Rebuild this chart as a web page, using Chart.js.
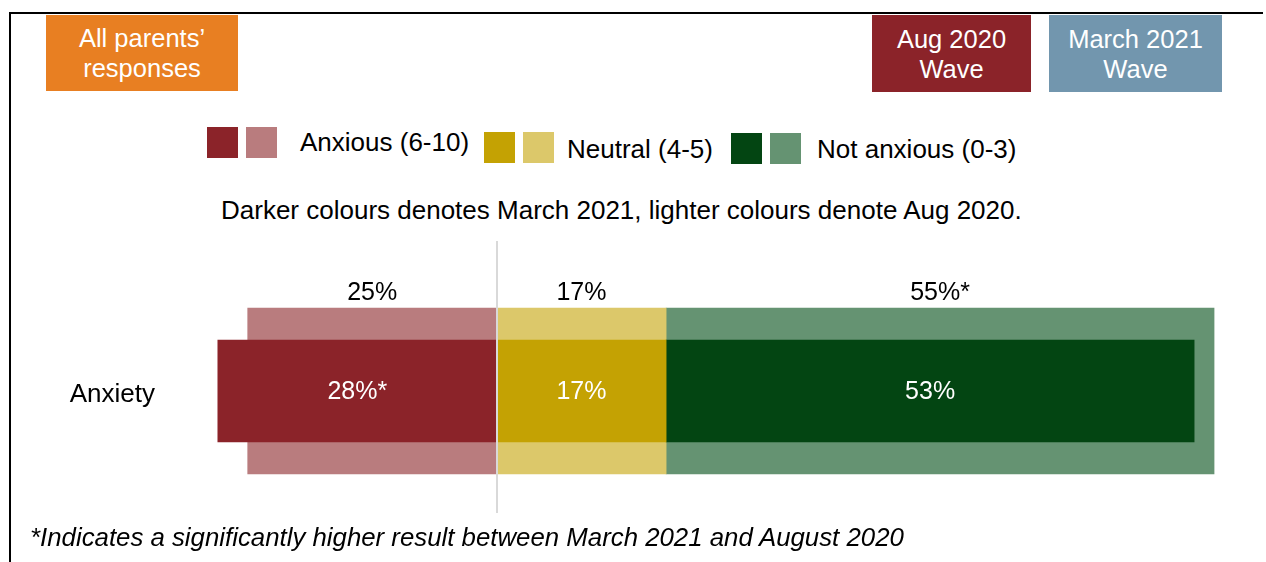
<!DOCTYPE html>
<html>
<head>
<meta charset="utf-8">
<script src="https://cdn.jsdelivr.net/npm/chart.js@4.4.1/dist/chart.umd.min.js"></script>
<style>
    body { margin: 0; background: #fff; }
    #wrap { position: relative; width: 1266px; height: 562px; overflow: hidden; background: #fff;
        font-family: "Liberation Sans", Arial, sans-serif; font-size: 26px; color: #000; }
    .abs { position: absolute; white-space: nowrap; line-height: 30px; }
    .box { position: absolute; display: flex; align-items: center; justify-content: center;
        text-align: center; color: #fff; line-height: 30px; font-size: 25.5px; }
    .sw { position: absolute; width: 31px; height: 31px; }
    #chart { position: absolute; left: 0; top: 241px; }
</style>
</head>
<body>
<div id="wrap">
    <div style="position:absolute;left:9px;top:12px;width:1254px;height:2px;background:#000"></div>
    <div style="position:absolute;left:9px;top:12px;width:2px;height:550px;background:#000"></div>

    <div class="box" style="left:46px;top:15px;width:192px;height:76px;background:#E87F22">All parents’<br>responses</div>
    <div class="box" style="left:872px;top:15px;width:159px;height:77px;background:#8B2329">Aug 2020<br>Wave</div>
    <div class="box" style="left:1049px;top:15px;width:173px;height:77px;background:#7296AE">March 2021<br>Wave</div>

    <div id="legend"></div>

    <div class="abs" style="left:221px;top:195px">Darker colours denotes March 2021, lighter colours denote Aug 2020.</div>

    <canvas id="chart" width="1266" height="300"></canvas>

    <div class="abs" style="left:30px;top:522px;font-style:italic;font-size:25.8px">*Indicates a significantly higher result between March 2021 and August 2020</div>
</div>

<script>
var categories = ['Anxiety'];
var seriesNames = ['Anxious (6-10)', 'Neutral (4-5)', 'Not anxious (0-3)'];
var aug2020 = [25, 17, 55];
var mar2021 = [28, 17, 53];
var aug2020Sig = ['', '', '*'];
var mar2021Sig = ['*', '', ''];
var darkColours = ['#8B2329', '#C4A203', '#034512'];
var lightColours = ['#B97C7E', '#DCC86A', '#659372'];

// legend (two swatches per category, then name)
var legendPos = [
    {sw: 207, top: 127, text: 300, ttop: 127},
    {sw: 484, top: 132, text: 567, ttop: 134},
    {sw: 731, top: 133, text: 817, ttop: 133.5}
];
var legendHtml = '';
for (var i = 0; i < seriesNames.length; i++) {
    var p = legendPos[i];
    legendHtml += '<div class="sw" style="left:' + p.sw + 'px;top:' + p.top + 'px;background:' + darkColours[i] + '"></div>';
    legendHtml += '<div class="sw" style="left:' + (p.sw + 39) + 'px;top:' + p.top + 'px;background:' + lightColours[i] + '"></div>';
    legendHtml += '<div class="abs" style="left:' + p.text + 'px;top:' + p.ttop + 'px">' + seriesNames[i] + '</div>';
}
document.getElementById('legend').innerHTML = legendHtml;

// anxious goes left of the centre line
function signed(vals) {
    return vals.map(function (v, i) { return i === 0 ? -v : v; });
}

var datasets = [];
var marSigned = signed(mar2021), augSigned = signed(aug2020);
for (var i = 0; i < seriesNames.length; i++) {
    datasets.push({
        label: seriesNames[i] + ' March 2021',
        data: [marSigned[i]],
        stack: 'mar', order: 0, wave: 'mar', idx: i,
        backgroundColor: darkColours[i],
        maxBarThickness: 102
    });
}
for (var i = 0; i < seriesNames.length; i++) {
    datasets.push({
        label: seriesNames[i] + ' Aug 2020',
        data: [augSigned[i]],
        stack: 'aug', order: 1, wave: 'aug', idx: i,
        backgroundColor: lightColours[i],
        maxBarThickness: 166
    });
}

var centreLine = {
    id: 'centreLine',
    afterDatasetsDraw: function (chart) {
        var ctx = chart.ctx, x = Math.round(chart.scales.x.getPixelForValue(0));
        ctx.save();
        ctx.strokeStyle = '#D9D9D9';
        ctx.lineWidth = 2;
        ctx.beginPath();
        ctx.moveTo(x, 0);
        ctx.lineTo(x, 272);
        ctx.stroke();
        ctx.restore();
    }
};

var barLabels = {
    id: 'barLabels',
    afterDatasetsDraw: function (chart) {
        var ctx = chart.ctx;
        ctx.save();
        ctx.font = '25px "Liberation Sans", Arial, sans-serif';
        ctx.textAlign = 'center';
        ctx.textBaseline = 'middle';
        chart.data.datasets.forEach(function (ds, d) {
            var bar = chart.getDatasetMeta(d).data[0];
            var cx = (bar.x + bar.base) / 2;
            if (ds.wave === 'mar') {
                ctx.fillStyle = '#fff';
                ctx.fillText(mar2021[ds.idx] + '%' + mar2021Sig[ds.idx], cx, bar.y + 1);
            } else {
                ctx.fillStyle = '#000';
                ctx.fillText(aug2020[ds.idx] + '%' + aug2020Sig[ds.idx], cx, bar.y - bar.height / 2 - 15);
            }
        });
        ctx.restore();
    }
};

new Chart(document.getElementById('chart'), {
    type: 'bar',
    data: { labels: categories, datasets: datasets },
    options: {
        indexAxis: 'y',
        responsive: false,
        animation: false,
        grouped: false,
        categoryPercentage: 1,
        barPercentage: 1,
        layout: { padding: { left: 0, right: 36, top: 0, bottom: 0 } },
        plugins: { legend: { display: false }, tooltip: { enabled: false } },
        scales: {
            x: { display: false, stacked: true, min: -32.8, max: 73.6 },
            y: {
                grid: { display: false },
                border: { display: false },
                ticks: { padding: 7, labelOffset: 4, color: '#000', font: { family: '"Liberation Sans", Arial, sans-serif', size: 26 } },
                afterFit: function (scale) { scale.width = 170; }
            }
        }
    },
    plugins: [centreLine, barLabels]
});
</script>
</body>
</html>
